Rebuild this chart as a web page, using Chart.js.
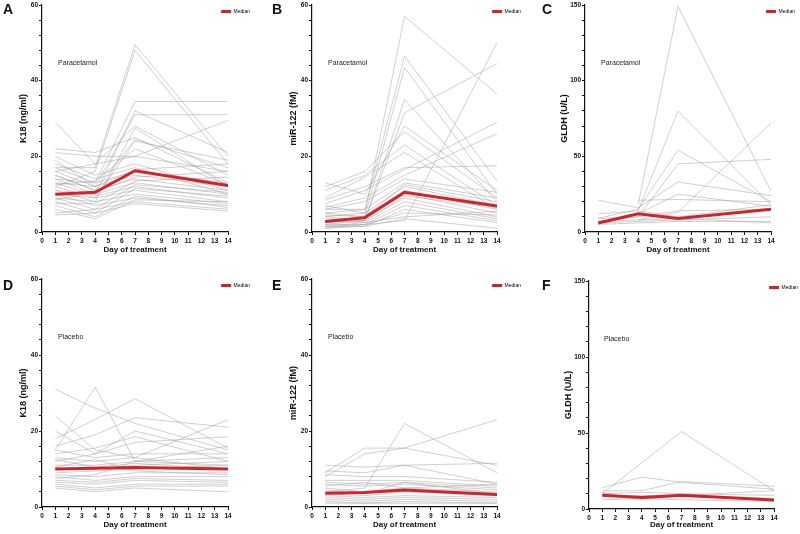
<!DOCTYPE html>
<html><head><meta charset="utf-8">
<script src="https://cdn.jsdelivr.net/npm/chart.js@4.4.1/dist/chart.umd.min.js"></script>
<style>
html,body{margin:0;padding:0;background:#fff;width:800px;height:534px;overflow:hidden;position:relative;font-family:"Liberation Sans",Arial,sans-serif;}
canvas{position:absolute;}
.lab{position:absolute;line-height:1;white-space:nowrap;color:#111;}
.letter{font-size:14px;font-weight:bold;}
.grp{font-size:7px;color:#222;}
</style></head><body>
<canvas id="cA"></canvas><canvas id="cB"></canvas><canvas id="cC"></canvas>
<canvas id="cD"></canvas><canvas id="cE"></canvas><canvas id="cF"></canvas>
<div class="lab letter" style="left:3px;top:2px">A</div>
<div class="lab letter" style="left:272px;top:2px">B</div>
<div class="lab letter" style="left:542px;top:2px">C</div>
<div class="lab letter" style="left:3px;top:278px">D</div>
<div class="lab letter" style="left:272px;top:278px">E</div>
<div class="lab letter" style="left:542px;top:278px">F</div>
<div class="lab grp" style="left:58px;top:58.5px">Paracetamol</div>
<div class="lab grp" style="left:328px;top:58.5px">Paracetamol</div>
<div class="lab grp" style="left:601px;top:59px">Paracetamol</div>
<div class="lab grp" style="left:58px;top:333px">Placebo</div>
<div class="lab grp" style="left:328px;top:333px">Placebo</div>
<div class="lab grp" style="left:604px;top:335px">Placebo</div>
<script>
// ---------- data ----------
const days = [1, 4, 7, 14];
const xTitle = 'Day of treatment';
const legendLabel = 'Median';

// K18 (ng/ml), paracetamol: one row per participant [day1, day4, day7, day14]
const k18Paracetamol = [
  [17, 17, 49.5, 20], [12, 16, 48, 18], [14, 13, 34.5, 34.5], [13, 12, 31, 31],
  [11, 10, 32, 21], [16, 18, 28, 15], [9, 8, 27.5, 12], [15, 11, 24.5, 17],
  [10, 9, 24, 19], [29, 18, 20, 16], [22, 21, 25, 13], [21, 20, 20, 29.5],
  [20, 15, 18, 11], [18, 14, 17, 10], [17, 13, 16, 13], [16, 12, 15, 12],
  [15, 11, 14, 11], [14, 10, 13, 10], [13, 9.5, 12, 9], [12, 9, 11, 8],
  [11, 8, 10, 7.5], [10, 7, 9, 7], [9, 6, 8, 6], [8, 5, 7.5, 5.5],
  [7, 4, 9.5, 6.5], [6, 3.5, 8.5, 8], [5, 6, 12.5, 10.5], [4.5, 5, 11.5, 9.5],
  [19, 12, 16.5, 18], [8.5, 10.5, 14.5, 16], [12.5, 13.5, 22, 12.5], [7.5, 7.5, 13.5, 14.5]
];
const k18ParacetamolMedian = [10, 10.5, 16.2, 12.3];

// miR-122 (fM), paracetamol
const mir122Paracetamol = [
  [7, 5, 57, 36.5], [6, 6, 46.5, 13.5], [5, 4, 43.5, 10], [4, 3, 35, 8],
  [2.5, 3, 31.5, 44.5], [1.5, 2, 3, 50], [13, 10, 28, 11], [12, 16, 26.5, 9],
  [11, 15, 23, 7], [9, 14.5, 21, 6], [8.5, 12, 17, 17.5], [7.5, 11, 16.5, 29],
  [6.5, 9, 15, 26], [6, 8, 14, 10.5], [5, 6, 13, 9], [4, 5, 12, 7],
  [3, 4, 11, 6], [2.5, 3.5, 10, 5], [2, 3, 9, 4], [1.5, 2.5, 8, 3.5],
  [1, 2, 7, 3], [1, 1.5, 6, 2.5], [2, 2, 5, 4.5], [3, 2.5, 4, 5.5],
  [1.5, 1.5, 3.5, 1], [4.5, 4, 12.5, 8], [3.5, 3, 9.5, 6.5]
];
const mir122ParacetamolMedian = [2.8, 3.8, 10.5, 6.9];

// GLDH (U/L), paracetamol
const gldhParacetamol = [
  [null, 18, 149, 27], [12, 14, 80, 18], [9, 15, 54, 20], [7, 10, 45, 48],
  [21, 16, 33, 24], [6, 12, 25, 17], [null, 21, 21.5, 20], [null, 8, 13, 72],
  [9, 10, 14, 15], [6, 7, 8, 10], [5, 6, 7, 7], [7, 8, 9, 6], [null, 14, 10, 18]
];
const gldhParacetamolMedian = [6, 12, 9, 15];

// K18 (ng/ml), placebo
const k18Placebo = [
  [31, 26, 22, 15], [15, 31.5, 12, 11], [24, 15, 13, 10], [18, 23, 28.5, 15.5],
  [16, 19, 23.5, 21], [13, 12, 13, 23], [14, 15.5, 18.5, 12], [12, 14, 17, 18.5],
  [15, 13, 14, 14], [11, 11, 12, 13], [10, 10, 11, 12], [9, 9.5, 10, 11],
  [8.5, 8, 9, 9], [8, 7, 8, 8], [7, 6.5, 7.5, 7], [6.5, 6, 7, 6.5],
  [6, 5, 6, 6], [5.5, 4.5, 5.5, 5.5], [5, 4, 5, 4], [12.5, 10.5, 11.5, 10],
  [10.5, 12.5, 9.5, 8.5], [7.5, 8.5, 12, 16], [20, 14, 20, 14]
];
const k18PlaceboMedian = [10, 10.2, 10.4, 10];

// miR-122 (fM), placebo
const mir122Placebo = [
  [4, 5, 22, 9], [9, 15.5, 15.5, 23], [8, 14, 15.5, 11], [11, 10.5, 11, 11.5],
  [9.5, 9, 11, 6], [8.5, 8, 8, 6.5], [7, 7, 7, 5.5], [6.5, 6, 6.5, 5],
  [6, 5.5, 6, 4.5], [5, 4, 5, 4], [3.5, 3, 4, 3], [3, 2.5, 3, 2.5],
  [2.5, 2, 2.5, 2], [2, 1.5, 2, 1.5], [1.5, 1, 1.5, 1], [1, 1, 1, 1],
  [5.5, 6.5, 5, 6], [4.5, 3.5, 6.5, 3.5]
];
const mir122PlaceboMedian = [3.6, 3.8, 4.5, 3.3];

// GLDH (U/L), placebo
const gldhPlacebo = [
  [10, null, 51, 12], [14, 21, 17.5, 13], [12, 12, 18, 15], [10, 11, 10, 9],
  [8, 9, 8, 7], [6, 7, 6, 5], [11, 6, 9, 12]
];
const gldhPlaceboMedian = [9, 7.5, 9, 6];

// ---------- drawing ----------
const FONT = '"Liberation Sans", Arial, Helvetica, sans-serif';
const RED = '#d2232a';
const GREY = 'rgba(160,160,160,0.55)';
const LEG_BOX = 10, LEG_FONT = 5, LEG_PAD = 2;

// place the (chartArea) legend so that its text ends at opts.textEnd (canvas x)
const legendPlace = {
  id: 'legendPlace',
  afterLayout(chart, args, opts) {
    const lg = chart.legend;
    if (!lg || !opts) return;
    const ctx = chart.ctx;
    ctx.save();
    ctx.font = LEG_FONT + 'px ' + FONT;
    const tw = ctx.measureText(legendLabel).width;
    ctx.restore();
    const itemW = LEG_BOX + LEG_FONT / 2 + tw;
    const left = opts.textEnd - itemW - LEG_PAD;
    lg.left = left; lg.right = left + itemW + 20;
    lg.top = chart.chartArea.top + opts.dy; lg.bottom = lg.top + 20;
  }
};

function toPoints(row) { return days.map((d, i) => ({ x: d, y: row[i] })); }

function makePanel(id, box, subjects, median, p) {
  const cv = document.getElementById(id);
  cv.width = box.w; cv.height = box.h;
  cv.style.left = box.left + 'px'; cv.style.top = box.top + 'px';
  cv.style.width = box.w + 'px'; cv.style.height = box.h + 'px';
  const datasets = [{
    label: legendLabel, data: toPoints(median), borderColor: RED, backgroundColor: RED,
    borderWidth: 3, pointRadius: 0, tension: 0, order: 0
  }];
  subjects.forEach((row, i) => datasets.push({
    label: 'P' + (i + 1), data: toPoints(row), borderColor: GREY, backgroundColor: GREY,
    borderWidth: 0.9, pointRadius: 0, tension: 0, spanGaps: true, order: 1
  }));
  new Chart(cv, {
    type: 'line',
    data: { datasets },
    plugins: [legendPlace],
    options: {
      responsive: false, animation: false, events: [],
      layout: { padding: { top: p.padTop, right: p.padRight, left: 0, bottom: 0 } },
      scales: {
        x: {
          type: 'linear', min: 0, max: 14,
          afterFit(s) { s.height = p.xH; },
          grid: { display: true, drawOnChartArea: false, drawTicks: true, tickLength: 3, color: '#111', lineWidth: 1 },
          border: { display: true, color: '#111', width: 1.2 },
          ticks: { stepSize: 1, autoSkip: false, maxRotation: 0, padding: 2, color: '#111',
                   font: { family: FONT, size: 6.5, weight: 'bold' } },
          title: { display: true, text: xTitle, color: '#111', padding: { top: 0, bottom: p.xTitlePad },
                   font: { family: FONT, size: 8, weight: 'bold' } }
        },
        y: {
          type: 'linear', min: 0, max: p.yMax,
          afterFit(s) { s.width = p.yW; },
          grid: { display: true, drawOnChartArea: false, drawTicks: true, tickLength: 3, color: '#111', lineWidth: 1 },
          border: { display: true, color: '#111', width: 1.2 },
          ticks: { stepSize: p.yStep, autoSkip: false, padding: 1, color: '#111',
                   font: { family: FONT, size: 6.5, weight: 'bold' },
                   callback: (v) => (v % p.yMajor === 0 ? v : '') },
          title: { display: true, text: p.yTitle, color: '#111', padding: { top: p.yTitlePad, bottom: 0 },
                   font: { family: FONT, size: 9, weight: 'bold' } }
        }
      },
      plugins: {
        tooltip: { enabled: false },
        legendPlace: { textEnd: p.legEnd, dy: 2 },
        legend: {
          position: 'chartArea', align: 'start',
          labels: {
            boxWidth: LEG_BOX, boxHeight: 3, padding: LEG_PAD, color: '#222',
            font: { family: FONT, size: LEG_FONT },
            generateLabels: () => [{ text: legendLabel, fillStyle: RED, strokeStyle: RED, lineWidth: 0, hidden: false, datasetIndex: 0 }]
          }
        }
      }
    }
  });
}

makePanel('cA', { left: 0, top: 0, w: 265, h: 260 }, k18Paracetamol, k18ParacetamolMedian,
  { yMax: 60, yStep: 4, yMajor: 20, yTitle: 'K18 (ng/ml)', yW: 42, yTitlePad: 18.6, padTop: 5, padRight: 37, xH: 28, xTitlePad: 5, legEnd: 250 });
makePanel('cB', { left: 265, top: 0, w: 265, h: 260 }, mir122Paracetamol, mir122ParacetamolMedian,
  { yMax: 60, yStep: 4, yMajor: 20, yTitle: 'miR-122 (fM)', yW: 47, yTitlePad: 23.6, padTop: 5, padRight: 33, xH: 28, xTitlePad: 5, legEnd: 256 });
makePanel('cC', { left: 530, top: 0, w: 270, h: 260 }, gldhParacetamol, gldhParacetamolMedian,
  { yMax: 150, yStep: 10, yMajor: 50, yTitle: 'GLDH (U/L)', yW: 55, yTitlePad: 29.6, padTop: 5, padRight: 29, xH: 28, xTitlePad: 5, legEnd: 265 });
makePanel('cD', { left: 0, top: 265, w: 265, h: 269 }, k18Placebo, k18PlaceboMedian,
  { yMax: 60, yStep: 4, yMajor: 20, yTitle: 'K18 (ng/ml)', yW: 42, yTitlePad: 18.6, padTop: 14, padRight: 37, xH: 27, xTitlePad: 4, legEnd: 250 });
makePanel('cE', { left: 265, top: 265, w: 265, h: 269 }, mir122Placebo, mir122PlaceboMedian,
  { yMax: 60, yStep: 4, yMajor: 20, yTitle: 'miR-122 (fM)', yW: 47, yTitlePad: 23.6, padTop: 14, padRight: 33, xH: 27, xTitlePad: 4, legEnd: 256 });
makePanel('cF', { left: 530, top: 265, w: 270, h: 269 }, gldhPlacebo, gldhPlaceboMedian,
  { yMax: 150, yStep: 10, yMajor: 50, yTitle: 'GLDH (U/L)', yW: 59, yTitlePad: 33.6, padTop: 16, padRight: 26, xH: 25, xTitlePad: 4, legEnd: 268 });
</script>
</body></html>
